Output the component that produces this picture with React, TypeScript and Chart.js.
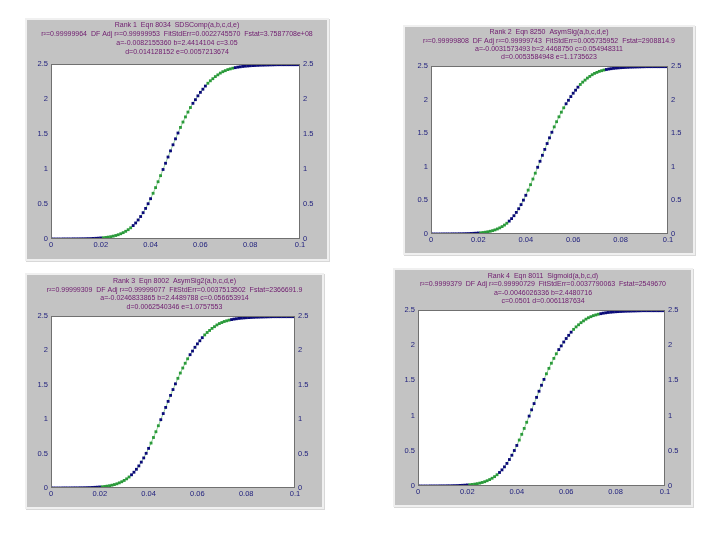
import React, { useEffect, useRef } from "react";
import { Chart, registerables } from "chart.js";
Chart.register(...registerables);

const X_VALUES = [
  0, 0.001, 0.002, 0.003, 0.004, 0.005, 0.006, 0.007, 0.008, 0.009,
  0.01, 0.011, 0.012, 0.013, 0.014, 0.015, 0.016, 0.017, 0.018, 0.019,
  0.02, 0.021, 0.022, 0.023, 0.024, 0.025, 0.026, 0.027, 0.028, 0.029,
  0.03, 0.031, 0.032, 0.033, 0.034, 0.035, 0.036, 0.037, 0.038, 0.039,
  0.04, 0.041, 0.042, 0.043, 0.044, 0.045, 0.046, 0.047, 0.048, 0.049,
  0.05, 0.051, 0.052, 0.053, 0.054, 0.055, 0.056, 0.057, 0.058, 0.059,
  0.06, 0.061, 0.062, 0.063, 0.064, 0.065, 0.066, 0.067, 0.068, 0.069,
  0.07, 0.071, 0.072, 0.073, 0.074, 0.075, 0.076, 0.077, 0.078, 0.079,
  0.08, 0.081, 0.082, 0.083, 0.084, 0.085, 0.086, 0.087, 0.088, 0.089,
  0.09, 0.091, 0.092, 0.093, 0.094, 0.095, 0.096, 0.097, 0.098, 0.099,
  0.1,
];

const Y_VALUES = [
  0.0, 0.0, 0.0, 0.0, 0.0, 0.001, 0.001, 0.001, 0.001, 0.002,
  0.002, 0.002, 0.003, 0.003, 0.004, 0.005, 0.006, 0.008, 0.01, 0.012,
  0.015, 0.018, 0.022, 0.027, 0.033, 0.041, 0.05, 0.061, 0.075, 0.091,
  0.11, 0.133, 0.16, 0.192, 0.229, 0.272, 0.321, 0.376, 0.437, 0.504,
  0.576, 0.653, 0.734, 0.818, 0.905, 0.993, 1.082, 1.171, 1.259, 1.346,
  1.431, 1.514, 1.594, 1.671, 1.744, 1.813, 1.878, 1.938, 1.99, 2.045,
  2.095, 2.14, 2.185, 2.225, 2.26, 2.29, 2.32, 2.345, 2.37, 2.39,
  2.405, 2.42, 2.43, 2.44, 2.448, 2.455, 2.46, 2.465, 2.469, 2.472,
  2.475, 2.477, 2.479, 2.481, 2.483, 2.484, 2.485, 2.486, 2.487, 2.488,
  2.489, 2.49, 2.49, 2.49, 2.49, 2.49, 2.49, 2.49, 2.49, 2.49,
  2.49,
];

const X_TICKS = [0, 0.02, 0.04, 0.06, 0.08, 0.1];
const X_TICK_LABELS = ["0", "0.02", "0.04", "0.06", "0.08", "0.1"];
const Y_TICKS = [0, 0.5, 1, 1.5, 2, 2.5];
const Y_TICK_LABELS = ["0", "0.5", "1", "1.5", "2", "2.5"];

const GREEN_RANGES = [
  [0.021, 0.032],
  [0.041, 0.044],
  [0.052, 0.056],
  [0.063, 0.073],
];

const TITLE_1 = [
  "Rank 1  Eqn 8034  SDSComp(a,b,c,d,e)",
  "r²=0.99999964  DF Adj r²=0.99999953  FitStdErr=0.0022745570  Fstat=3.7587708e+08",
  "a=-0.0082155360 b=2.4414104 c=3.05",
  "d=0.014128152 e=0.0057213674",
];
const TITLE_2 = [
  "Rank 2  Eqn 8250  AsymSig(a,b,c,d,e)",
  "r²=0.99999808  DF Adj r²=0.99999743  FitStdErr=0.005735952  Fstat=2908814.9",
  "a=-0.0031573493 b=2.4468750 c=0.054948311",
  "d=0.0053584948 e=1.1735623",
];
const TITLE_3 = [
  "Rank 3  Eqn 8002  AsymSig2(a,b,c,d,e)",
  "r²=0.99999309  DF Adj r²=0.99999077  FitStdErr=0.0037513502  Fstat=2366691.9",
  "a=-0.0246833865 b=2.4489788 c=0.056653914",
  "d=0.0062540346 e=1.0757553",
];
const TITLE_4 = [
  "Rank 4  Eqn 8011  Sigmoid(a,b,c,d)",
  "r²=0.9999379  DF Adj r²=0.99990729  FitStdErr=0.0037790063  Fstat=2549670",
  "a=-0.0046026336 b=2.4480716",
  "c=0.0501 d=0.0061187634",
];

const NAVY = "#0a0a78";
const GREEN = "#2a9a3a";
const TITLE_COLOR = "#6e1a6e";
const TICK_COLOR = "#22227e";
const FONT = "'Liberation Sans', Arial, sans-serif";

type Box = { x: number; y: number; w: number; h: number };
type Plot = { l: number; t: number; r: number; b: number };

function Panel(props: { box: Box; plot: Plot; title: string[]; titleY: number[] }) {
  const ref = useRef<HTMLCanvasElement | null>(null);
  const { box, plot, title, titleY } = props;

  useEffect(() => {
    if (!ref.current) return;
    const pts = X_VALUES.map((x, i) => ({ x, y: Y_VALUES[i] }));
    const isGreen = (x: number) => GREEN_RANGES.some(([a, b]) => x >= a - 1e-9 && x <= b + 1e-9);

    const overlay = {
      id: "overlay",
      beforeDraw(chart: any) {
        const ctx = chart.ctx;
        const a = chart.chartArea;
        ctx.save();
        ctx.fillStyle = "#ffffff";
        ctx.fillRect(a.left, a.top, a.right - a.left, a.bottom - a.top);
        ctx.restore();
      },
      afterDraw(chart: any) {
        const ctx = chart.ctx;
        const a = chart.chartArea;
        ctx.save();
        ctx.strokeStyle = "#707070";
        ctx.lineWidth = 1;
        ctx.strokeRect(a.left + 0.5, a.top + 0.5, a.right - a.left - 1, a.bottom - a.top - 1);
        ctx.fillStyle = TITLE_COLOR;
        ctx.font = "7px " + FONT;
        ctx.textAlign = "center";
        ctx.textBaseline = "middle";
        title.forEach((line, i) => {
          ctx.fillText(line, box.w / 2, titleY[i] - box.y);
        });
        ctx.restore();
      },
    };

    const tickFont = { family: FONT, size: 7.5 };
    const grid = { display: false, drawTicks: false, tickLength: 0 };

    const chart = new Chart(ref.current, {
      type: "scatter",
      data: {
        datasets: [
          {
            data: pts,
            showLine: true,
            borderColor: "rgba(60,170,70,0.55)",
            borderWidth: 1,
            pointRadius: 0,
            order: 2,
          },
          {
            data: pts,
            showLine: false,
            pointStyle: "rect",
            pointRadius: 2,
            borderWidth: 0,
            backgroundColor: (c: any) => (isGreen(X_VALUES[c.dataIndex]) ? GREEN : NAVY),
            order: 1,
          },
        ],
      },
      plugins: [overlay],
      options: {
        animation: false,
        responsive: false,
        maintainAspectRatio: false,
        devicePixelRatio: 1,
        events: [],
        layout: { padding: { top: plot.t - box.y, left: 0, right: 0, bottom: 0 } },
        plugins: { legend: { display: false }, tooltip: { enabled: false }, title: { display: false } },
        scales: {
          x: {
            type: "linear",
            min: 0,
            max: 0.1,
            position: "bottom",
            grid,
            border: { display: false },
            afterBuildTicks: (s: any) => {
              s.ticks = X_TICKS.map((v) => ({ value: v }));
            },
            afterFit: (s: any) => {
              s.height = box.y + box.h - plot.b;
            },
            ticks: {
              autoSkip: false,
              maxRotation: 0,
              padding: 1,
              color: TICK_COLOR,
              font: tickFont,
              callback: (v: any) => X_TICK_LABELS[X_TICKS.findIndex((t) => Math.abs(t - v) < 1e-9)],
            },
          },
          y: {
            type: "linear",
            min: 0,
            max: 2.5,
            position: "left",
            grid,
            border: { display: false },
            afterBuildTicks: (s: any) => {
              s.ticks = Y_TICKS.map((v) => ({ value: v }));
            },
            afterFit: (s: any) => {
              s.width = plot.l - box.x;
            },
            ticks: {
              autoSkip: false,
              padding: 3,
              color: TICK_COLOR,
              font: tickFont,
              callback: (v: any) => Y_TICK_LABELS[Y_TICKS.findIndex((t) => Math.abs(t - v) < 1e-9)],
            },
          },
          y2: {
            type: "linear",
            min: 0,
            max: 2.5,
            position: "right",
            grid,
            border: { display: false },
            afterBuildTicks: (s: any) => {
              s.ticks = Y_TICKS.map((v) => ({ value: v }));
            },
            afterFit: (s: any) => {
              s.width = box.x + box.w - plot.r;
            },
            ticks: {
              autoSkip: false,
              padding: 3,
              color: TICK_COLOR,
              font: tickFont,
              callback: (v: any) => Y_TICK_LABELS[Y_TICKS.findIndex((t) => Math.abs(t - v) < 1e-9)],
            },
          },
        },
      } as any,
    });
    return () => chart.destroy();
  }, []);

  return (
    <div
      style={{
        position: "absolute",
        left: box.x,
        top: box.y,
        width: box.w,
        height: box.h,
        background: "#c3c3c3",
        boxShadow: "0 0 0 2px #f0f0f0, 1px 1px 0 2px #d8d8d8",
      }}
    >
      <canvas ref={ref} width={box.w} height={box.h} style={{ display: "block", width: box.w, height: box.h }} />
    </div>
  );
}

export default function App() {
  return (
    <div style={{ position: "fixed", left: 0, top: 0, width: 720, height: 540, background: "#ffffff", overflow: "hidden" }}>
      <Panel box={{ x: 27, y: 20, w: 300, h: 239 }} plot={{ l: 51, t: 64, r: 300, b: 239 }} title={TITLE_1} titleY={[25, 34, 43, 52]} />
      <Panel box={{ x: 405, y: 27, w: 288, h: 226 }} plot={{ l: 431, t: 66, r: 668, b: 234 }} title={TITLE_2} titleY={[32, 41, 49, 57]} />
      <Panel box={{ x: 27, y: 275, w: 295, h: 232 }} plot={{ l: 51, t: 316, r: 295, b: 488 }} title={TITLE_3} titleY={[281, 290, 298, 307]} />
      <Panel box={{ x: 395, y: 270, w: 296, h: 235 }} plot={{ l: 418, t: 310, r: 665, b: 486 }} title={TITLE_4} titleY={[276, 284, 293, 301]} />
    </div>
  );
}
